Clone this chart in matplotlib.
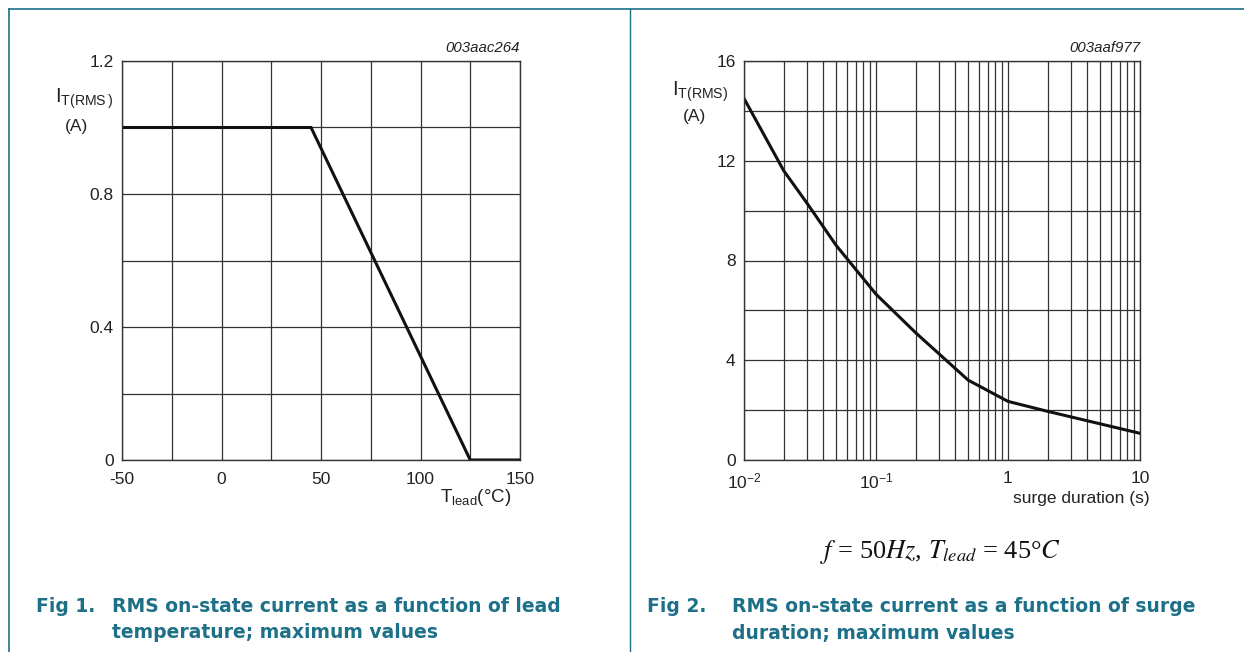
import matplotlib
matplotlib.use("Agg")
import matplotlib.pyplot as plt
from matplotlib.lines import Line2D
from matplotlib.ticker import MultipleLocator, FixedLocator, LogLocator, NullFormatter

plt.rcParams['font.family'] = ['Liberation Sans', 'DejaVu Sans']
plt.rcParams['mathtext.fontset'] = 'custom'
plt.rcParams['mathtext.rm'] = 'Liberation Sans'
plt.rcParams['mathtext.it'] = 'Liberation Sans:italic'
plt.rcParams['mathtext.bf'] = 'Liberation Sans:bold'

# ---- data ----
temp_lead = [-50, 45, 125, 150]
irms_temp = [1.0, 1.0, 0.0, 0.0]

surge_duration = [0.01, 0.02, 0.03, 0.05, 0.1, 0.2, 0.5, 1, 2, 10]
irms_surge = [14.5, 11.6, 10.3, 8.6, 6.65, 5.1, 3.2, 2.35, 1.95, 1.07]

left_xticks = [-50, 0, 50, 100, 150]
left_yticks = [0, 0.4, 0.8, 1.2]
right_xticks = [0.01, 0.1, 1, 10]
right_xticklabels = [r'$10^{-2}$', r'$10^{-1}$', '1', '10']
right_yticks = [0, 4, 8, 12, 16]

teal = '#1d7088'
ink = '#222222'
gridc = '#333333'

W, H = 1244, 652
fig = plt.figure(figsize=(W / 100, H / 100), dpi=100)

def fx(px):
    return px / W

def fy(py):
    return 1 - py / H

# frame lines
fig.add_artist(Line2D([fx(9), 1], [fy(9), fy(9)], color=teal, lw=1.2))
fig.add_artist(Line2D([fx(9), fx(9)], [fy(9), 0], color=teal, lw=1.2))
fig.add_artist(Line2D([fx(630), fx(630)], [fy(9), 0], color=teal, lw=1.0))

def style(ax):
    for s in ax.spines.values():
        s.set_color(gridc)
        s.set_linewidth(1.0)
    ax.tick_params(which='both', length=0, labelsize=12.5, colors=ink, pad=6)
    ax.tick_params(axis='x', pad=9)
    ax.grid(True, which='both', color=gridc, lw=0.9)
    ax.set_axisbelow(True)

# ---- left chart ----
ax1 = fig.add_axes([fx(122), fy(460), fx(520 - 122), (460 - 61) / H])
ax1.plot(temp_lead, irms_temp, color='#111111', lw=2.2, solid_joinstyle='miter')
ax1.set_xlim(-50, 150)
ax1.set_ylim(0, 1.2)
ax1.xaxis.set_major_locator(FixedLocator(left_xticks))
ax1.xaxis.set_minor_locator(MultipleLocator(25))
ax1.yaxis.set_major_locator(FixedLocator(left_yticks))
ax1.yaxis.set_minor_locator(MultipleLocator(0.2))
ax1.set_xticklabels([str(v) for v in left_xticks])
ax1.set_yticklabels(['0', '0.4', '0.8', '1.2'])
style(ax1)

fig.text(fx(520), fy(48), '003aac264', ha='right', va='center', fontsize=10.8,
         style='italic', color=ink)
fig.text(fx(84), fy(99), r'$\mathrm{I_{T(RMS\,)}}$', ha='center', va='center',
         fontsize=14.5, color=ink)
fig.text(fx(77), fy(126), '(A)', ha='center', va='center', fontsize=12.5, color=ink)
fig.text(fx(511), fy(497), r'$\mathrm{T_{lead}}$(°C)', ha='right', va='center',
         fontsize=13.5, color=ink)

# ---- right chart ----
ax2 = fig.add_axes([fx(744), fy(460), fx(1140 - 744), (460 - 61) / H])
ax2.plot(surge_duration, irms_surge, color='#111111', lw=2.2)
ax2.set_xscale('log')
ax2.set_xlim(0.01, 10)
ax2.set_ylim(0, 16)
ax2.xaxis.set_major_locator(FixedLocator(right_xticks))
ax2.xaxis.set_minor_locator(LogLocator(base=10, subs=range(2, 10), numticks=20))
ax2.xaxis.set_minor_formatter(NullFormatter())
ax2.set_xticklabels(right_xticklabels)
ax2.yaxis.set_major_locator(FixedLocator(right_yticks))
ax2.yaxis.set_minor_locator(MultipleLocator(2))
ax2.set_yticklabels([str(v) for v in right_yticks])
style(ax2)
ax2.tick_params(axis='x', pad=8)

fig.text(fx(1140), fy(48), '003aaf977', ha='right', va='center', fontsize=10.8,
         style='italic', color=ink)
fig.text(fx(700), fy(92), r'$\mathrm{I_{T(RMS)}}$', ha='center', va='center',
         fontsize=14.5, color=ink)
fig.text(fx(695), fy(116), '(A)', ha='center', va='center', fontsize=12.5, color=ink)
fig.text(fx(1150), fy(498), 'surge duration (s)', ha='right', va='center',
         fontsize=12.5, color=ink)

fig.text(fx(940), fy(552), r'$f$ = 50$Hz$, $T_{lead}$ = 45°$C$', ha='center',
         va='center', fontsize=19, family='Liberation Serif', math_fontfamily='stix',
         color='#111111')

# ---- captions ----
cap = dict(fontsize=13.5, fontweight='bold', color=teal, va='center', ha='left',
           family=['DejaVu Sans'])
fig.text(fx(36), fy(607), 'Fig 1.', **cap)
fig.text(fx(112), fy(607), 'RMS on-state current as a function of lead', **cap)
fig.text(fx(112), fy(633), 'temperature; maximum values', **cap)
fig.text(fx(647), fy(607), 'Fig 2.', **cap)
fig.text(fx(732), fy(607), 'RMS on-state current as a function of surge', **cap)
fig.text(fx(732), fy(633), 'duration; maximum values', **cap)

fig.savefig('out.png', dpi=100)
